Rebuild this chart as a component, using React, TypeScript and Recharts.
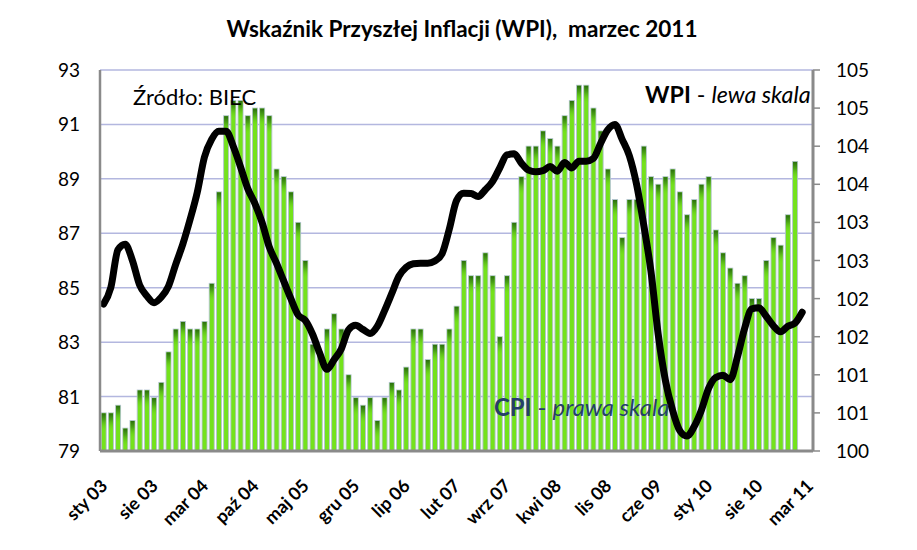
import React from 'react';
import { ComposedChart, Bar, Line, XAxis, YAxis, CartesianGrid } from 'recharts';

const MONTHS = ['sty', 'lut', 'mar', 'kwi', 'maj', 'cze', 'lip', 'sie', 'wrz', 'paź', 'lis', 'gru'];
const START_YEAR = 2003;
const N_CATEGORIES = 99; // sty 03 .. mar 11

// CPI (prawa skala), sty 03 .. sty 11
const CPI = [
  100.5, 100.5, 100.6, 100.3, 100.4, 100.8, 100.8, 100.7, 100.9, 101.3, 101.6, 101.7,
  101.6, 101.6, 101.7, 102.2, 103.4, 104.4, 104.6, 104.6, 104.4, 104.5, 104.5, 104.4,
  103.7, 103.6, 103.4, 103.0, 102.5, 101.4, 101.3, 101.6, 101.8, 101.6, 101.0, 100.7,
  100.6, 100.7, 100.4, 100.7, 100.9, 100.8, 101.1, 101.6, 101.6, 101.2, 101.4, 101.4,
  101.6, 101.9, 102.5, 102.3, 102.3, 102.6, 102.3, 101.5, 102.3, 103.0, 103.6, 104.0,
  104.0, 104.2, 104.1, 104.0, 104.4, 104.6, 104.8, 104.8, 104.5, 104.2, 103.7, 103.3,
  102.8, 103.3, 103.3, 104.0, 103.6, 103.5, 103.6, 103.7, 103.4, 103.1, 103.3, 103.5,
  103.6, 102.9, 102.6, 102.4, 102.2, 102.3, 102.0, 102.0, 102.5, 102.8, 102.7, 103.1,
  103.8,
];

// WPI (lewa skala), sty 03 .. lut 11
const WPI = [
  84.4, 85.0, 86.4, 86.6, 86.0, 85.1, 84.7, 84.45, 84.65, 85.05,
  85.85, 86.6, 87.5, 88.5, 89.8, 90.45, 90.75, 90.75, 90.2, 89.45,
  88.65, 88.1, 87.4, 86.5, 85.9, 85.25, 84.6, 84.0, 83.8, 83.3,
  82.6, 82.0, 82.35, 82.75, 83.45, 83.62, 83.47, 83.32, 83.58, 84.15,
  84.78, 85.42, 85.75, 85.88, 85.9, 85.9, 85.98, 86.25, 87.15, 88.2,
  88.47, 88.46, 88.35, 88.6, 88.9, 89.4, 89.88, 89.92, 89.58, 89.32,
  89.26, 89.3, 89.45, 89.28, 89.6, 89.4, 89.65, 89.65, 89.75, 90.3,
  90.8, 91.0, 90.45, 89.85, 88.8, 87.3, 85.6, 83.3, 81.6, 80.5,
  79.75, 79.55, 79.9, 80.5, 81.3, 81.7, 81.78, 81.62, 82.45, 83.5,
  84.22, 84.26, 83.95, 83.6, 83.38, 83.58, 83.7, 84.1,
];

const LEFT_TICKS = [79, 81, 83, 85, 87, 89, 91, 93];
const RIGHT_TICKS = [100, 100.5, 101, 101.5, 102, 102.5, 103, 103.5, 104, 104.5, 105];

const FONT = 'Lato, "Open Sans", sans-serif';

const data = Array.from({ length: N_CATEGORIES }, (_, i) => {
  const m = i % 12;
  const y = (START_YEAR + Math.floor(i / 12)) % 100;
  return {
    cat: `${MONTHS[m]} ${String(y).padStart(2, '0')}`,
    cpi: i < CPI.length ? CPI[i] : null,
    wpi: i < WPI.length ? WPI[i] : null,
  };
});

const CpiBar = (props: any) => {
  const { x, y, width, height } = props;
  if (!height || height <= 0) return null;
  const cap = Math.min(18, height);
  return (
    <g>
      <rect x={x} y={y} width={width} height={height} fill="#74e21c" stroke="#b3c3d2" strokeWidth={0.9} />
      <rect x={x + 0.45} y={y + 0.45} width={Math.max(0, width - 0.9)} height={cap} fill="url(#cpiCap)" />
    </g>
  );
};

const XTick = (props: any) => {
  const { x, y, payload } = props;
  return (
    <g transform={`translate(${x + 5},${y + 28}) rotate(-45)`}>
      <text x={0} y={0} textAnchor="end" fontFamily={FONT} fontWeight={700} fontSize={18} fill="#000">
        {payload.value}
      </text>
    </g>
  );
};

const LeftTick = (props: any) => {
  const { y, payload } = props;
  return (
    <text x={80} y={y + 7} textAnchor="end" fontFamily={FONT} fontSize={19} fill="#000">
      {payload.value}
    </text>
  );
};

const RightTick = (props: any) => {
  const { x, y, payload } = props;
  return (
    <text x={x + 14} y={y + 7} textAnchor="start" fontFamily={FONT} fontSize={19} fill="#000">
      {String(Math.round(payload.value))}
    </text>
  );
};

export default function App() {
  return (
    <div style={{ position: 'absolute', left: 0, top: 0, width: 917, height: 550, background: '#fff' }}>
      <ComposedChart
        width={917}
        height={550}
        data={data}
        margin={{ top: 70, right: 0, bottom: 0, left: 0 }}
        barCategoryGap={1.2}
      >
        <defs>
          <linearGradient id="cpiCap" x1="0" y1="0" x2="0" y2="1">
            <stop offset="0" stopColor="#2a6c0e" stopOpacity={1} />
            <stop offset="0.35" stopColor="#3f9214" stopOpacity={0.8} />
            <stop offset="1" stopColor="#74e21c" stopOpacity={0} />
          </linearGradient>
        </defs>
        <CartesianGrid yAxisId="left" vertical={false} stroke="#b3b7df" strokeWidth={1.5} />
        <XAxis
          dataKey="cat"
          interval={6}
          height={99}
          tick={<XTick />}
          tickLine={false}
          axisLine={{ stroke: '#8a8a8a', strokeWidth: 3 }}
        />
        <YAxis
          yAxisId="left"
          domain={[79, 93]}
          ticks={LEFT_TICKS}
          width={100}
          tick={<LeftTick />}
          tickLine={false}
          axisLine={{ stroke: '#8a8a8a', strokeWidth: 2.5 }}
          allowDataOverflow
        />
        <YAxis
          yAxisId="right"
          orientation="right"
          domain={[100, 105]}
          ticks={RIGHT_TICKS}
          width={104}
          tick={<RightTick />}
          tickSize={7}
          tickLine={{ stroke: '#8a8a8a', strokeWidth: 1.5 }}
          axisLine={{ stroke: '#8a8a8a', strokeWidth: 3 }}
          allowDataOverflow
        />
        <Bar yAxisId="right" dataKey="cpi" shape={<CpiBar />} isAnimationActive={false} />
        <Line
          yAxisId="left"
          dataKey="wpi"
          type="monotone"
          stroke="#000"
          strokeWidth={7}
          dot={false}
          activeDot={false}
          strokeLinejoin="round"
          strokeLinecap="round"
          isAnimationActive={false}
        />
      </ComposedChart>
      <div
        style={{
          position: 'absolute', left: 0, width: 924, top: 15, textAlign: 'center',
          fontFamily: FONT, fontWeight: 700, fontSize: 22.5, color: '#000', whiteSpace: 'pre',
        }}
      >
        {'Wskaźnik Przyszłej Inflacji (WPI),  marzec 2011'}
      </div>
      <div
        style={{
          position: 'absolute', left: 133, top: 83, fontFamily: FONT, fontSize: 22, color: '#000',
          whiteSpace: 'pre',
        }}
      >
        Źródło: BIEC
      </div>
      <div
        style={{
          position: 'absolute', left: 645, top: 80, fontFamily: FONT, fontSize: 23.3, color: '#000',
          whiteSpace: 'pre',
        }}
      >
        <span style={{ fontWeight: 700 }}>WPI</span> - <span style={{ fontStyle: 'italic' }}>lewa skala</span>
      </div>
      <div
        style={{
          position: 'absolute', left: 494, top: 393, fontFamily: FONT, fontSize: 23.8, color: '#253f6a',
          whiteSpace: 'pre',
        }}
      >
        <span style={{ fontWeight: 700 }}>CPI</span> - <span style={{ fontStyle: 'italic' }}>prawa skala</span>
      </div>
    </div>
  );
}
